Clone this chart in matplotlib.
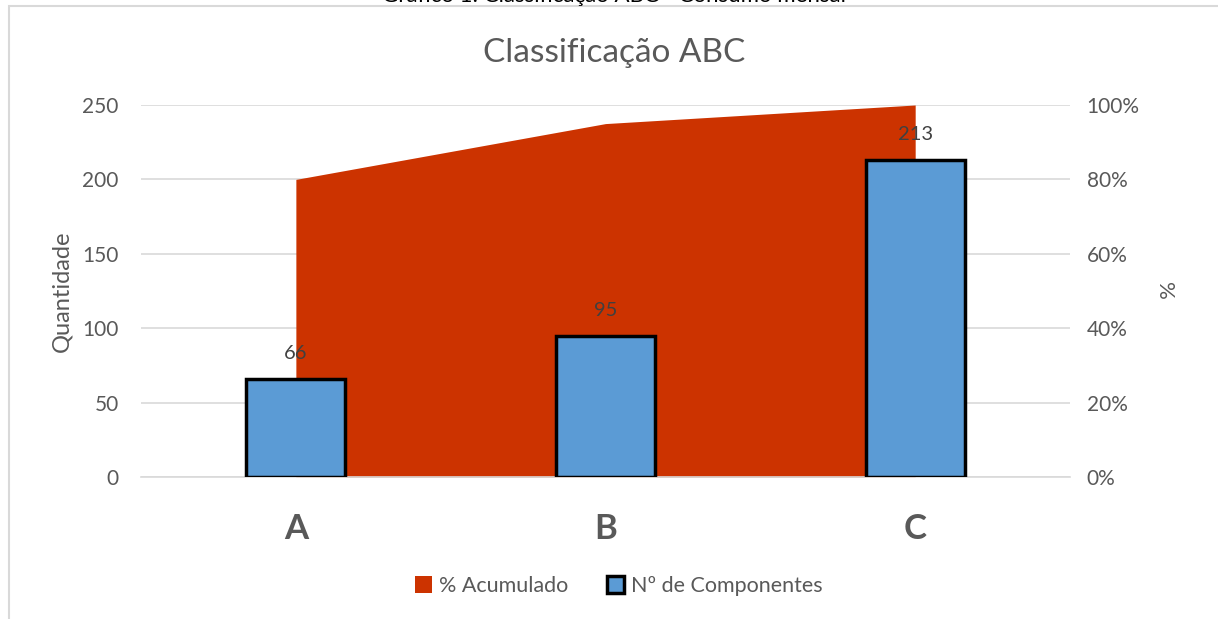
import matplotlib.pyplot as plt
from matplotlib.patches import Patch, Rectangle

plt.rcParams['font.family'] = ['Lato', 'DejaVu Sans']

categorias = ["A", "B", "C"]
componentes = [66, 95, 213]
acumulado = [80, 95, 100]

fig = plt.figure(figsize=(12.18, 6.19), dpi=100)
ax2 = fig.add_axes([0.1158, 0.2294, 0.7627, 0.601])
ax = ax2.twinx()
ax.set_zorder(ax2.get_zorder() + 1)
ax.patch.set_visible(False)

x = [i + 0.5 for i in range(len(categorias))]

# area on the right (percent) axis, behind the bars
ax2.fill_between(x, 0, acumulado, color="#CC3300", linewidth=0, zorder=2)
ax2.set_ylim(0, 100)
ax2.set_xlim(0, 3)
ax2.set_yticks(range(0, 101, 20))
ax2.yaxis.grid(True, color="#D9D9D9", linewidth=1.2, zorder=0)
ax2.set_axisbelow(True)
ax2.yaxis.tick_right()
ax2.yaxis.set_label_position("right")
ax2.set_yticklabels([f"{v}%" for v in range(0, 101, 20)])
ax2.set_ylabel("%", fontsize=16, color="#595959", rotation=270, labelpad=25)

# bars on the left (quantity) axis
ax.bar(x, componentes, width=0.32, color="#5B9BD5", edgecolor="black", linewidth=2.5, zorder=3)
ax.set_ylim(0, 250)
ax.set_yticks(range(0, 251, 50))
ax.yaxis.tick_left()
ax.yaxis.set_label_position("left")
ax.set_ylabel("Quantidade", fontsize=17, color="#595959", labelpad=7)
for xi, v in zip(x, componentes):
    ax.annotate(str(v), (xi, v), xytext=(0, 12), textcoords="offset points",
                ha="center", va="bottom", fontsize=14.5, color="#404040")

ax2.set_xticks(x)
ax2.set_xticklabels(categorias, fontweight="bold", color="#404040")

for a in (ax, ax2):
    for s in a.spines.values():
        s.set_visible(False)
    a.tick_params(length=0, labelsize=15, labelcolor="#595959", pad=12)
ax.tick_params(axis="y", pad=16)
ax2.tick_params(axis="x", pad=26, labelsize=25)
ax2.spines["bottom"].set_visible(True)
ax2.spines["bottom"].set_color("#D9D9D9")
ax2.spines["bottom"].set_linewidth(1.2)

fig.text(0.504, 0.915, "Classificação ABC", ha="center", va="center", fontsize=24, color="#595959")
# caption above the chart, cut off at the top edge as in the source
fig.text(0.504, 1 - 1.5 / 619, "Gráfico 1: Classificação ABC - Consumo mensal",
         ha="center", va="baseline", fontsize=16, color="black")

handles = [Patch(facecolor="#CC3300", edgecolor="none", label="% Acumulado"),
           Patch(facecolor="#5B9BD5", edgecolor="black", linewidth=2.5, label="Nº de Componentes")]
fig.legend(handles=handles, loc="center", bbox_to_anchor=(0.508, 0.053), ncol=2, frameon=False,
           fontsize=15.5, handlelength=0.8, handleheight=0.8, handletextpad=0.3, columnspacing=1.8,
           labelcolor="#595959")

fig.patches.append(Rectangle((8.5 / 1218, -0.1), 1.2, 1.1 - 6.5 / 619, transform=fig.transFigure,
                             fill=False, edgecolor="#D9D9D9", linewidth=1.5))

fig.savefig("out.png", dpi=100)
